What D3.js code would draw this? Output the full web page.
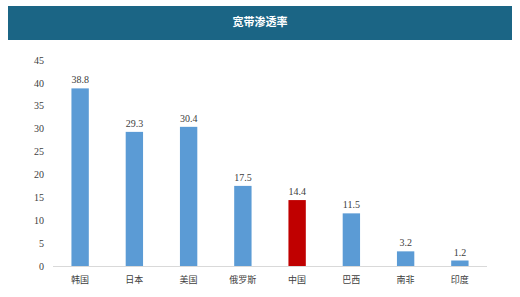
<!DOCTYPE html>
<meta charset="utf-8">
<style>
body { margin: 0; background: #fff; }
.title { font-family: "Noto Sans CJK SC", sans-serif; font-weight: bold; font-size: 11px; fill: #fff; }
.tick text { font-family: "Liberation Serif", serif; font-size: 10px; fill: #404040; }
.cat { font-family: "Noto Sans CJK SC", sans-serif; font-size: 9px; fill: #404040; }
.val { font-family: "Liberation Serif", serif; font-size: 10px; fill: #404040; }
</style>
<body>
<script src="https://d3js.org/d3.v7.min.js"></script>
<script>
    var categories = ["韩国", "日本", "美国", "俄罗斯", "中国", "巴西", "南非", "印度"];
    var values = [38.8, 29.3, 30.4, 17.5, 14.4, 11.5, 3.2, 1.2];
    var yTicks = [0, 5, 10, 15, 20, 25, 30, 35, 40, 45];
    var title = "宽带渗透率";

    var width = 520, height = 297;

    var svg = d3.select("body").append("svg")
        .attr("width", width)
        .attr("height", height);

    // header band
    svg.append("rect")
        .attr("x", 8).attr("y", 6)
        .attr("width", 504).attr("height", 34)
        .attr("fill", "#1b6585");
    svg.append("text")
        .attr("class", "title")
        .attr("x", 260).attr("y", 26)
        .attr("text-anchor", "middle")
        .text(title);

    var x = d3.scaleBand().domain(categories).range([53, 487]).paddingInner(0.68).paddingOuter(0.34);
    var y = d3.scaleLinear().domain([0, 45]).range([266, 60]);

    // y axis (labels only)
    var yAxis = svg.append("g")
        .attr("transform", "translate(44,0)")
        .call(d3.axisLeft(y).tickValues(yTicks).tickSize(0).tickPadding(0));
    yAxis.select(".domain").remove();

    // baseline
    svg.append("line")
        .attr("x1", 53).attr("x2", 487)
        .attr("y1", y(0) + 0.5).attr("y2", y(0) + 0.5)
        .attr("stroke", "#d9d9d9");

    svg.selectAll(".bar")
        .data(values)
        .enter().append("rect")
        .attr("class", "bar")
        .attr("x", function (d, i) { return x(categories[i]); })
        .attr("y", function (d) { return y(d); })
        .attr("width", x.bandwidth())
        .attr("height", function (d) { return y(0) - y(d); })
        .attr("fill", function (d, i) { return categories[i] === "中国" ? "#c00000" : "#5b9bd5"; });

    svg.selectAll(".val")
        .data(values)
        .enter().append("text")
        .attr("class", "val")
        .attr("x", function (d, i) { return x(categories[i]) + x.bandwidth() / 2; })
        .attr("y", function (d) { return y(d) - 5; })
        .attr("text-anchor", "middle")
        .text(function (d) { return d.toFixed(1); });

    svg.selectAll(".cat")
        .data(categories)
        .enter().append("text")
        .attr("class", "cat")
        .attr("x", function (d) { return x(d) + x.bandwidth() / 2; })
        .attr("y", 283)
        .attr("text-anchor", "middle")
        .text(function (d) { return d; });
</script>
</body>
